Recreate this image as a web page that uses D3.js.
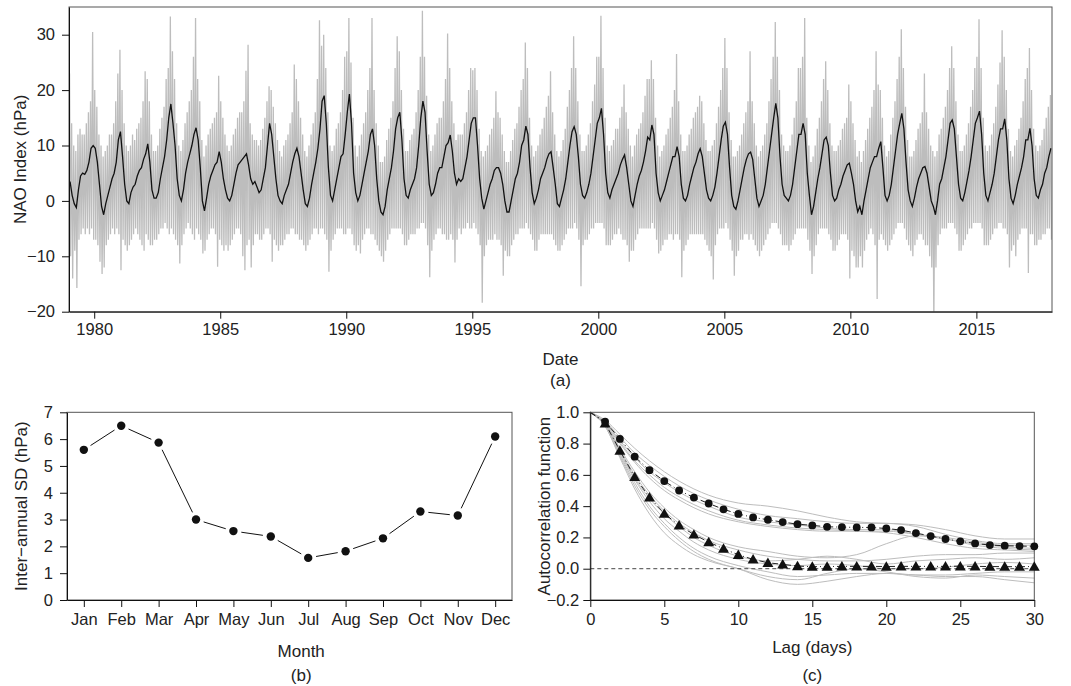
<!DOCTYPE html>
<html>
<head>
<meta charset="utf-8">
<script src="https://d3js.org/d3.v7.min.js"></script>
<style>
  body { margin: 0; background: #fff; }
  svg { font-family: "Liberation Sans", Arial, Helvetica, sans-serif; }
  .tick text { font-family: "Liberation Sans", Arial, Helvetica, sans-serif; font-size: 16.5px; fill: #222; }
  .title { font-size: 17px; fill: #222; }
</style>
</head>
<body>
<div id="chart"></div>
<script>
// ---------- panel (a): NAO index, monthly values (1979-2017) ----------
const startYear = 1979;
// smoothed NAO (black line), one row per year, Jan..Dec
const naoMean = [
  [3.5,1,-0.5,-1.2,2,4.5,5,4.8,5.5,7,9.5,10],
  [9.5,7,3,-1,-2.5,-0.5,1,2.5,4,5,7,11],
  [12.5,8,3,0,-0.5,1.5,2.5,3,4.5,5.5,6,7.5],
  [8.5,10.3,7,2,0.5,0.5,1.5,4,6,8,11,15],
  [17.5,14,10,4,1,0,2,5,7,8.5,10,12],
  [13.2,11,6,0,-1.8,0.5,3,4.5,5.5,6.5,7,8.9],
  [7,4,2,0.5,0,1,3,5,6.5,7,7.5,8],
  [8.5,6.5,4,3,3.5,2.5,1.5,2,4,6,10,14],
  [12,8,4,1,0,-0.5,1,2,3,5,7,8.5],
  [9.5,8,5,2,-0.5,-1,0.5,3,5,7,9.5,13],
  [18,19,14,6,1,0,2,4,6,8,8.5,12],
  [16,19.3,14,5,1.5,0,1,3,5,7,9,12],
  [13,10,4,0,-2,-2.5,-1,2,4,6,9,13],
  [15,16,11,4,1,0.5,2,3,4,6,10,15],
  [18,16,9,3,1,1.5,3,5,6,6,8,10],
  [10.5,11.9,9,5,3,4,3.5,4,6,8,11,14],
  [15,15,10,4,0.5,-1.5,0,1.5,3,4,5.5,6],
  [6,5,3,0,-2,-2,0,2,4,5,7,10],
  [11,13.5,12,6,1.5,-0.5,0.5,2,4,5,6,7.5],
  [8.5,8.9,6,3,-0.5,-1,0.5,2,4,7,10,12.5],
  [13.4,12,8,3,1,0.5,1.5,3,5,8,11,14],
  [15,16.7,12,5,1.5,0.5,2,3,4,5,6.5,7.5],
  [8.3,6,3,0,-1,1,3,4.5,5.5,7,9,11.5],
  [11,13.7,12,5,1.5,0,1,2,3.5,5,6.5,8],
  [8,9.8,8,3,0.5,0,1,3,4.5,6,7,8.5],
  [9.4,8,5,2,0.5,0,1,2.5,5,8,11,13.5],
  [14.2,12,6,1,-1,-1.5,0,2,4,6,7.5,8.5],
  [8.8,7.5,4,0.5,-1,0,1,3,6,9,12,15],
  [17.6,15,8,3,1,0.5,0,1,3,6,9,12],
  [12,14,12,5,1,-2.5,-1,1.5,4,6,8.5,11],
  [11.5,10,5,1,0,0.5,2,3,4.5,5.5,6.5,6.8],
  [5,3,0,-2,-1,-2.5,0,2,4,6,7,8],
  [8,9.5,10.7,6,1,0,1,3,6,9,12,14],
  [15.8,13,7,2,0,-1,0.5,2.5,4,5,6,6.2],
  [5,2.5,0,-1,-2.5,0,3,4,6,8,11,14],
  [14.6,13,8,3,0.5,0,1.5,3.5,5.5,8,11,14],
  [15,16.2,12,5,1,0,1.5,3,5,8,11,13],
  [13,14.8,11,4,0.5,-0.5,1,3,4.5,6,8,11],
  [11,13.1,10,4,1,0.5,2,3,5,6,8,9.5]
];
// daily NAO (grey), monthly highest value
const naoHigh = [
  [23,14,10,9,12,13,12,12,14,16,18,30.5],
  [20,17,12,10,8,9,10,12,12,14,18,23],
  [27.3,20,14,10,9,10,12,11,13,14,15,18],
  [23.4,22,18,12,9,9,10,13,15,17,22,24],
  [33.3,27,22,14,10,9,11,14,16,18,20,26],
  [33,22,18,11,8,10,12,13,14,15,16,22.6],
  [18,15,12,10,9,10,12,13,15,16,16,18],
  [23.5,28.2,14,12,11,11,10,11,13,15,18,20.7],
  [20,17,14,11,9,8,10,11,12,14,16,24.6],
  [22,18,15,12,9,8,10,12,14,16,22,32.6],
  [28,30,24,16,10,9,10,13,14,16,20,26],
  [27,33,25,15,10,8,10,12,14,16,20,24],
  [33,20,14,10,7,7,8,11,13,15,18,24],
  [29.7,27,20,13,9,9,11,12,13,16,20,26],
  [34.3,26,19,12,9,10,12,14,15,15,18,22],
  [30.2,24,18,14,11,12,12,12,14,16,20,24],
  [23.6,24,20,13,9,8,9,10,12,13,15,19.8],
  [16,15,12,9,7,7,9,11,13,14,17,20],
  [22,28.6,24,15,10,8,9,10,12,13,15,17],
  [19,23.4,16,12,9,8,9,11,13,17,20,24],
  [29.7,24,18,12,9,9,10,12,14,18,21,26],
  [26,33.4,24,15,10,9,10,11,13,13,15,17],
  [21,16,13,10,8,10,12,13,14,16,19,22],
  [22,25.4,22,15,10,8,9,10,12,13,15,17],
  [20,26.5,18,12,9,9,10,12,13,15,16,17],
  [19,18,14,11,9,9,10,11,14,17,20,24],
  [29.4,24,16,11,8,8,9,10,12,14,16,18],
  [27,18,14,10,8,9,10,12,14,18,22,26],
  [32.3,26,20,12,10,9,9,10,12,15,18,24],
  [24,26,33,15,10,7,8,10,13,15,18,22],
  [25.2,20,14,10,9,9,10,11,13,14,15,21],
  [18,14,11,8,9,7,9,11,13,15,17,20],
  [27,21,20,15,10,8,9,12,15,18,22,26],
  [31,24,17,11,8,8,9,11,13,14,16,23],
  [16,13,10,9,8,9,12,13,15,17,20,24],
  [27.9,24,18,12,9,9,10,12,14,17,20,24],
  [26,32.8,24,15,10,9,10,12,14,17,21,25],
  [30.8,26,20,13,9,8,10,11,13,15,18,22],
  [24,27.6,20,13,10,9,10,11,13,15,17,19.1]
];
// daily NAO (grey), monthly lowest value
const naoLow = [
  [-10,-14,-9,-15.7,-7,-6,-5,-6,-5,-6,-5,-7],
  [-7,-8,-11,-13.2,-12,-8,-7,-6,-5,-6,-5,-6],
  [-12.5,-7,-8,-9,-8,-7,-6,-5,-6,-7,-8,-9],
  [-6,-7,-8,-8,-7,-7,-6,-5,-5,-4,-5,-6],
  [-5,-6,-7,-8,-11.3,-8,-6,-5,-4,-5,-6,-7],
  [-5,-6,-7,-9.5,-9,-7,-6,-5,-5,-6,-11.9,-7],
  [-8,-9,-8,-9,-8,-7,-6,-5,-5,-6,-10,-12.5],
  [-8,-7,-12,-8,-6,-6,-7,-7,-6,-5,-5,-6],
  [-11,-7,-8,-9,-8,-8,-7,-6,-6,-5,-5,-6],
  [-6,-7,-7,-8,-9,-8,-7,-6,-5,-5,-6,-5],
  [-5,-6,-7,-12.8,-9,-7,-6,-5,-5,-5,-6,-6],
  [-5,-5,-6,-8,-9,-8,-9.5,-7,-6,-5,-5,-6],
  [-6,-7,-8,-9,-10,-11,-9,-7,-6,-5,-5,-5],
  [-5,-5,-6,-8,-8,-7,-6,-6,-6,-5,-5,-4],
  [-4,-5,-8,-13.8,-9,-7,-6,-5,-5,-6,-6,-7],
  [-7,-6,-7,-11.1,-7,-5,-6,-5,-5,-4,-5,-5],
  [-4,-5,-6,-8,-18.4,-10,-8,-7,-7,-7,-6,-7],
  [-7,-8,-13.5,-9,-10,-10,-8,-7,-6,-6,-5,-5],
  [-5,-4,-5,-6,-7,-9,-9,-7,-6,-6,-6,-6],
  [-6,-6,-7,-8,-9,-9,-8,-7,-6,-5,-5,-5],
  [-4,-5,-7,-15.4,-8,-7,-7,-6,-5,-5,-4,-4],
  [-4,-4,-5,-8,-8,-8,-7,-6,-6,-5,-6,-7],
  [-7,-8,-11,-9,-9,-7,-6,-5,-5,-5,-5,-5],
  [-5,-4,-5,-7,-9.5,-9,-8,-7,-7,-6,-6,-7],
  [-6,-6,-7,-13.8,-9,-8,-7,-6,-6,-6,-6,-6],
  [-6,-6,-7,-8,-9,-10,-14.2,-8,-6,-5,-5,-5],
  [-4,-5,-7,-9,-13.5,-10,-9,-7,-7,-6,-6,-7],
  [-6,-7,-8,-9,-10,-9,-8,-7,-6,-5,-4,-4],
  [-4,-5,-6,-8,-8,-8,-9,-8,-7,-6,-5,-5],
  [-5,-5,-5,-7,-9,-13.2,-10,-8,-6,-5,-5,-5],
  [-5,-6,-7,-9,-9,-8,-7,-6,-6,-6,-7,-14],
  [-9,-10,-12,-12,-10,-12,-9,-7,-6,-5,-6,-8],
  [-17.7,-7,-6,-7,-8,-9,-8,-7,-6,-5,-4,-4],
  [-4,-5,-7,-8,-9,-10,-8,-7,-6,-6,-7,-8],
  [-8,-10,-12,-22,-12,-8,-6,-5,-5,-5,-4,-4],
  [-4,-5,-6,-9,-9,-8,-7,-6,-5,-5,-4,-4],
  [-4,-4,-5,-8,-8,-8,-7,-6,-5,-5,-4,-4],
  [-5,-5,-6,-12,-9,-8,-10,-7,-6,-5,-5,-5],
  [-13,-6,-6,-8,-8,-7,-7,-6,-6,-5,-5,-7]
];
const yearTicks = [1980, 1985, 1990, 1995, 2000, 2005, 2010, 2015];
const naoTicks = [-20, -10, 0, 10, 20, 30];

// ---------- panel (b): inter-annual SD by month ----------
const months = ["Jan","Feb","Mar","Apr","May","Jun","Jul","Aug","Sep","Oct","Nov","Dec"];
const sdValues = [5.6, 6.5, 5.87, 3.0, 2.57, 2.37, 1.57, 1.82, 2.3, 3.3, 3.15, 6.1];
const sdTicks = [0, 1, 2, 3, 4, 5, 6, 7];

// ---------- panel (c): autocorrelation ----------
const lags = d3.range(0, 31);
const acfCircles = [1, 0.94, 0.83, 0.716, 0.63, 0.56, 0.50, 0.455, 0.417, 0.38, 0.35, 0.328, 0.313, 0.298, 0.285,
  0.277, 0.268, 0.266, 0.264, 0.264, 0.257, 0.247, 0.228, 0.209, 0.19, 0.175, 0.162, 0.151, 0.147, 0.145, 0.143];
const acfTriangles = [1, 0.93, 0.755, 0.587, 0.457, 0.353, 0.277, 0.219, 0.17, 0.128, 0.089, 0.06, 0.038, 0.028, 0.017,
  0.013, 0.014, 0.015, 0.015, 0.015, 0.014, 0.015, 0.015, 0.015, 0.015, 0.016, 0.015, 0.014, 0.013, 0.013, 0.014];
// grey member curves, sampled at these lags
const memberLags = [0, 1, 2, 3, 4, 5, 6, 7, 8, 10, 12, 14, 16, 18, 20, 22, 24, 26, 28, 30];
const membersSlow = [
  [1, 0.95, 0.86, 0.77, 0.69, 0.62, 0.56, 0.51, 0.47, 0.42, 0.40, 0.37, 0.33, 0.30, 0.29, 0.28, 0.25, 0.21, 0.19, 0.19],
  [1, 0.94, 0.84, 0.74, 0.66, 0.59, 0.53, 0.48, 0.44, 0.38, 0.34, 0.32, 0.30, 0.29, 0.29, 0.27, 0.22, 0.18, 0.16, 0.16],
  [1, 0.93, 0.82, 0.71, 0.62, 0.55, 0.49, 0.44, 0.40, 0.33, 0.30, 0.28, 0.26, 0.25, 0.25, 0.22, 0.19, 0.16, 0.14, 0.13],
  [1, 0.93, 0.81, 0.69, 0.60, 0.52, 0.46, 0.41, 0.37, 0.31, 0.28, 0.26, 0.25, 0.24, 0.23, 0.20, 0.16, 0.13, 0.12, 0.11],
  [1, 0.92, 0.80, 0.68, 0.58, 0.50, 0.44, 0.39, 0.35, 0.30, 0.27, 0.25, 0.24, 0.24, 0.24, 0.22, 0.20, 0.17, 0.15, 0.15]
];
const membersFast = [
  [1, 0.93, 0.77, 0.62, 0.49, 0.39, 0.31, 0.25, 0.20, 0.14, 0.11, 0.08, 0.07, 0.09, 0.16, 0.21, 0.19, 0.15, 0.13, 0.12],
  [1, 0.93, 0.76, 0.60, 0.47, 0.37, 0.29, 0.23, 0.18, 0.12, 0.08, 0.06, 0.05, 0.05, 0.06, 0.08, 0.09, 0.09, 0.10, 0.10],
  [1, 0.92, 0.75, 0.58, 0.45, 0.35, 0.27, 0.20, 0.15, 0.08, 0.05, 0.06, 0.08, 0.06, 0.03, 0.05, 0.06, 0.07, 0.06, 0.07],
  [1, 0.92, 0.74, 0.57, 0.43, 0.32, 0.24, 0.17, 0.12, 0.06, 0.03, 0.02, 0.03, 0.02, 0.00, 0.00, 0.01, 0.03, 0.04, 0.03],
  [1, 0.92, 0.73, 0.55, 0.40, 0.29, 0.20, 0.13, 0.08, 0.02, -0.02, -0.05, -0.04, -0.03, -0.03, -0.04, -0.04, -0.03, -0.02, -0.02],
  [1, 0.91, 0.72, 0.53, 0.38, 0.27, 0.18, 0.11, 0.06, 0.00, -0.05, -0.07, -0.03, 0.00, -0.02, -0.05, -0.06, -0.04, -0.05, -0.06],
  [1, 0.91, 0.71, 0.51, 0.35, 0.23, 0.15, 0.09, 0.05, 0.00, -0.07, -0.10, -0.08, -0.05, -0.03, -0.04, -0.05, -0.05, -0.07, -0.09]
];
const lagTicks = [0, 5, 10, 15, 20, 25, 30];
const acfTicks = [-0.2, 0.0, 0.2, 0.4, 0.6, 0.8, 1.0];

const width = 1071, height = 686;
const grey = "#bdbdbd";

const svg = d3.select("#chart").append("svg")
  .attr("width", width)
  .attr("height", height);

function styleAxis(g) {
  g.attr("font-family", null).attr("font-size", null);
  g.select(".domain").attr("stroke", "#111");
  g.selectAll(".tick line").attr("stroke", "#111");
}

// ================= panel (a) =================
const a = { left: 69, right: 1052, top: 7, bottom: 311.7 };
const xA = d3.scaleLinear().domain([1979, 2018]).range([a.left, a.right]);
const yA = d3.scaleLinear().domain([-20, 35]).range([a.bottom, a.top]);

svg.append("clipPath").attr("id", "clipA")
  .append("rect").attr("x", a.left).attr("y", a.top)
  .attr("width", a.right - a.left).attr("height", a.bottom - a.top);

const hi = naoHigh.flat(), lo = naoLow.flat(), mean = naoMean.flat();
const zig = [];
hi.forEach((h, i) => {
  zig.push([startYear + (i + 0.25) / 12, h]);
  zig.push([startYear + (i + 0.75) / 12, lo[i]]);
});

const plotA = svg.append("g").attr("clip-path", "url(#clipA)");
plotA.append("path")
  .datum(zig)
  .attr("fill", "none")
  .attr("stroke", grey)
  .attr("stroke-width", 1.3)
  .attr("d", d3.line().x(d => xA(d[0])).y(d => yA(d[1])));

plotA.append("path")
  .datum(mean.map((v, i) => [startYear + (i + 0.5) / 12, v]))
  .attr("fill", "none")
  .attr("stroke", "#111")
  .attr("stroke-width", 1.3)
  .attr("d", d3.line().x(d => xA(d[0])).y(d => yA(d[1])));

svg.append("rect")
  .attr("x", a.left).attr("y", a.top)
  .attr("width", a.right - a.left).attr("height", a.bottom - a.top)
  .attr("fill", "none").attr("stroke", "#555");

svg.append("g")
  .attr("transform", `translate(${a.left},0)`)
  .call(d3.axisLeft(yA).tickValues(naoTicks).tickSize(7).tickSizeOuter(0).tickPadding(7))
  .call(styleAxis);

svg.append("g")
  .attr("transform", `translate(0,${a.bottom})`)
  .call(d3.axisBottom(xA).tickValues(yearTicks).tickFormat(d3.format("d")).tickSize(7).tickSizeOuter(0).tickPadding(5))
  .call(styleAxis);

svg.append("text").attr("class", "title")
  .attr("transform", `translate(26,${(a.top + a.bottom) / 2}) rotate(-90)`)
  .attr("text-anchor", "middle")
  .text("NAO Index (hPa)");
svg.append("text").attr("class", "title")
  .attr("x", (a.left + a.right) / 2).attr("y", 365)
  .attr("text-anchor", "middle").text("Date");
svg.append("text").attr("class", "title")
  .attr("x", (a.left + a.right) / 2).attr("y", 386)
  .attr("text-anchor", "middle").text("(a)");

// ================= panel (b) =================
const b = { left: 67, right: 512, top: 412.3, bottom: 600 };
const xB = d3.scalePoint().domain(months).range([b.left, b.right]).padding(0.45);
const yB = d3.scaleLinear().domain([0, 7]).range([b.bottom, b.top]);

svg.append("rect")
  .attr("x", b.left).attr("y", b.top)
  .attr("width", b.right - b.left).attr("height", b.bottom - b.top)
  .attr("fill", "none").attr("stroke", "#555");

// segments between points with a gap round each marker
const gap = 8;
const segs = d3.pairs(months.map((m, i) => [xB(m), yB(sdValues[i])]));
svg.append("g").selectAll("line")
  .data(segs)
  .join("line")
  .each(function ([p, q]) {
    const dx = q[0] - p[0], dy = q[1] - p[1];
    const len = Math.hypot(dx, dy);
    const ux = dx / len, uy = dy / len;
    d3.select(this)
      .attr("x1", p[0] + ux * gap).attr("y1", p[1] + uy * gap)
      .attr("x2", q[0] - ux * gap).attr("y2", q[1] - uy * gap);
  })
  .attr("stroke", "#111").attr("stroke-width", 1);

svg.append("g").selectAll("circle")
  .data(months)
  .join("circle")
  .attr("cx", d => xB(d))
  .attr("cy", (d, i) => yB(sdValues[i]))
  .attr("r", 4.2)
  .attr("fill", "#111");

svg.append("g")
  .attr("transform", `translate(${b.left},0)`)
  .call(d3.axisLeft(yB).tickValues(sdTicks).tickFormat(d3.format("d")).tickSize(7).tickSizeOuter(0).tickPadding(7))
  .call(styleAxis);

svg.append("g")
  .attr("transform", `translate(0,${b.bottom})`)
  .call(d3.axisBottom(xB).tickSize(7).tickSizeOuter(0).tickPadding(6))
  .call(styleAxis);

svg.append("text").attr("class", "title")
  .attr("transform", `translate(27,${(b.top + b.bottom) / 2}) rotate(-90)`)
  .attr("text-anchor", "middle")
  .text("Inter\u2212annual SD (hPa)");
svg.append("text").attr("class", "title")
  .attr("x", xB("Jul") - 7).attr("y", 657)
  .attr("text-anchor", "middle").text("Month");
svg.append("text").attr("class", "title")
  .attr("x", xB("Jul") - 7).attr("y", 681)
  .attr("text-anchor", "middle").text("(b)");

// ================= panel (c) =================
const c = { left: 590.3, right: 1034.3, top: 412.3, bottom: 600 };
const xC = d3.scaleLinear().domain([0, 30]).range([c.left, c.right]);
const yC = d3.scaleLinear().domain([-0.2, 1.0]).range([c.bottom, c.top]);

const memberLine = d3.line().x((d, i) => xC(memberLags[i])).y(d => yC(d)).curve(d3.curveMonotoneX);
svg.append("g").selectAll("path")
  .data(membersSlow.concat(membersFast))
  .join("path")
  .attr("fill", "none")
  .attr("stroke", grey)
  .attr("stroke-width", 1)
  .attr("d", memberLine);

svg.append("line")
  .attr("x1", xC(0)).attr("x2", xC(30))
  .attr("y1", yC(0)).attr("y2", yC(0))
  .attr("stroke", "#444").attr("stroke-width", 1)
  .attr("stroke-dasharray", "4,3");

const meanLine = d3.line().x((d, i) => xC(lags[i])).y(d => yC(d));
svg.append("g").selectAll("path")
  .data([acfCircles, acfTriangles])
  .join("path")
  .attr("fill", "none")
  .attr("stroke", "#222")
  .attr("stroke-width", 1)
  .attr("stroke-dasharray", "6,3,1,3")
  .attr("d", meanLine);

svg.append("rect")
  .attr("x", c.left).attr("y", c.top)
  .attr("width", c.right - c.left).attr("height", c.bottom - c.top)
  .attr("fill", "none").attr("stroke", "#555");

svg.append("g").selectAll("path")
  .data(lags.slice(1))
  .join("path")
  .attr("transform", d => `translate(${xC(d)},${yC(acfTriangles[d]) + 1})`)
  .attr("d", d3.symbol(d3.symbolTriangle, 52))
  .attr("fill", "#111");

svg.append("g").selectAll("circle")
  .data(lags.slice(1))
  .join("circle")
  .attr("cx", d => xC(d))
  .attr("cy", d => yC(acfCircles[d]))
  .attr("r", 3.9)
  .attr("fill", "#111");

svg.append("g")
  .attr("transform", `translate(${c.left},0)`)
  .call(d3.axisLeft(yC).tickValues(acfTicks).tickFormat(d3.format(".1f")).tickSize(7).tickSizeOuter(0).tickPadding(4))
  .call(styleAxis);

svg.append("g")
  .attr("transform", `translate(0,${c.bottom})`)
  .call(d3.axisBottom(xC).tickValues(lagTicks).tickSize(7).tickSizeOuter(0).tickPadding(6))
  .call(styleAxis);

svg.append("text").attr("class", "title")
  .attr("transform", `translate(550,${(c.top + c.bottom) / 2}) rotate(-90)`)
  .attr("text-anchor", "middle")
  .text("Autocorrelation function");
svg.append("text").attr("class", "title")
  .attr("x", (c.left + c.right) / 2).attr("y", 653)
  .attr("text-anchor", "middle").text("Lag (days)");
svg.append("text").attr("class", "title")
  .attr("x", (c.left + c.right) / 2).attr("y", 681)
  .attr("text-anchor", "middle").text("(c)");
</script>
</body>
</html>
